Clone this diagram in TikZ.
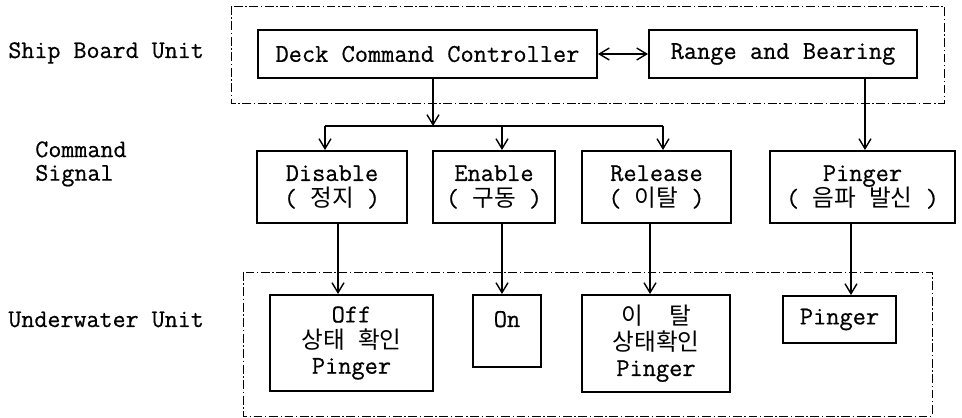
\documentclass[tikz,border=0pt]{standalone}
\usepackage{fontspec}
\setmonofont{Latin Modern Mono}[FakeBold=0.6]
\newfontfamily\krfont{Noto Sans CJK KR}[Scale=0.92]
\newcommand{\kr}[1]{{\krfont #1}}
\usepackage{tikz}
\usetikzlibrary{arrows.meta,calc,positioning}
\tikzset{
  bloque/.style={
    draw,
    line width=1.1pt,
    align=center,
    inner sep=0pt,
    font=\ttfamily\fontsize{14.6pt}{14.6pt}\selectfont
  },
  etiqueta/.style={
    inner sep=0pt,
    font=\ttfamily\fontsize{14.4pt}{13.4pt}\selectfont
  },
  grupo/.style={
    line width=.5pt,
    dash pattern=on 5pt off 1.5pt on .8pt off 1.5pt
  },
  arrow/.style={
    -{Straight Barb[length=2mm,width=2.4mm]},
    line width=.8pt
  },
  arrowboth/.style={
    {Straight Barb[length=2mm,width=2.4mm]}-{Straight Barb[length=2mm,width=2.4mm]},
    line width=.8pt
  }
}

\begin{document}
\begin{tikzpicture}[x=0.2mm,y=-0.2mm]
\useasboundingbox (0,0) rectangle (962,418);
% marcos de las unidades
\draw[grupo] (231,6) rectangle (944,103);
\draw[grupo] (243,272) rectangle (932,416);

% etiquetas a la izquierda
\node[etiqueta,anchor=base west] (lship) at (8,58) {Ship Board Unit};
\node[etiqueta,anchor=north west,align=left] (lcmd) at (35,141) {Command\\Signal};
\node[etiqueta,anchor=base west] (lwater) at (8,327) {Underwater Unit};

% unidad del barco
\node[bloque,minimum width=67.8mm,minimum height=9.6mm] (deck) at (427.5,54) {Deck Command Controller};
\node[bloque,minimum width=53.6mm,minimum height=9.6mm] (range) at (783,54) {Range and Bearing};

% senales de mando
\node[bloque,minimum width=30mm,minimum height=14.4mm] (disable) at (332,187) {Disable\\( \kr{정지} )};
\node[bloque,minimum width=24.4mm,minimum height=14.4mm] (enable) at (494,187) {Enable\\( \kr{구동} )};
\node[bloque,minimum width=29.8mm,minimum height=14.4mm] (release) at (656.5,187) {Release\\( \kr{이탈} )};
\node[bloque,minimum width=37mm,minimum height=14.4mm] (pingcmd) at (862.5,187) {Pinger\\( \kr{음파} \kr{발신} )};

% unidad submarina
\node[bloque,minimum width=32.6mm,minimum height=19.2mm] (off) at (351.5,343) {Off\\\kr{상태} \kr{확인}\\Pinger};
\node[bloque,minimum width=13.6mm,text height=6.4mm,text depth=8mm] (on) at (507,331) {On};
\node[bloque,minimum width=29.6mm,minimum height=19.4mm] (relstat) at (656,343.5) {\kr{이}~~\kr{탈}\\\kr{상태확인}\\Pinger};
\node[bloque,minimum width=22.6mm,minimum height=9.4mm] (pinger) at (839.5,319.5) {Pinger};

% conexiones
\draw[arrowboth] (deck.east) -- (range.west);
\coordinate (split) at (433,126);
\coordinate (bd) at (325,126);
\coordinate (be) at (502,126);
\coordinate (br) at (663,126);
\draw[arrow] (deck.south -| split) -- (split);
\draw[line width=.8pt] (bd) -- (br);
\draw[arrow] (bd) -- (bd |- disable.north);
\draw[arrow] (be) -- (be |- enable.north);
\draw[arrow] (br) -- (br |- release.north);
\draw[arrow] (range.south -| 865,0) -- (pingcmd.north -| 865,0);
\foreach \x/\de/\a in {338/disable/off,502/enable/on,650/release/relstat,851/pingcmd/pinger}
  \draw[arrow] (\de.south -| \x,0) -- (\a.north -| \x,0);
\end{tikzpicture}
\end{document}
